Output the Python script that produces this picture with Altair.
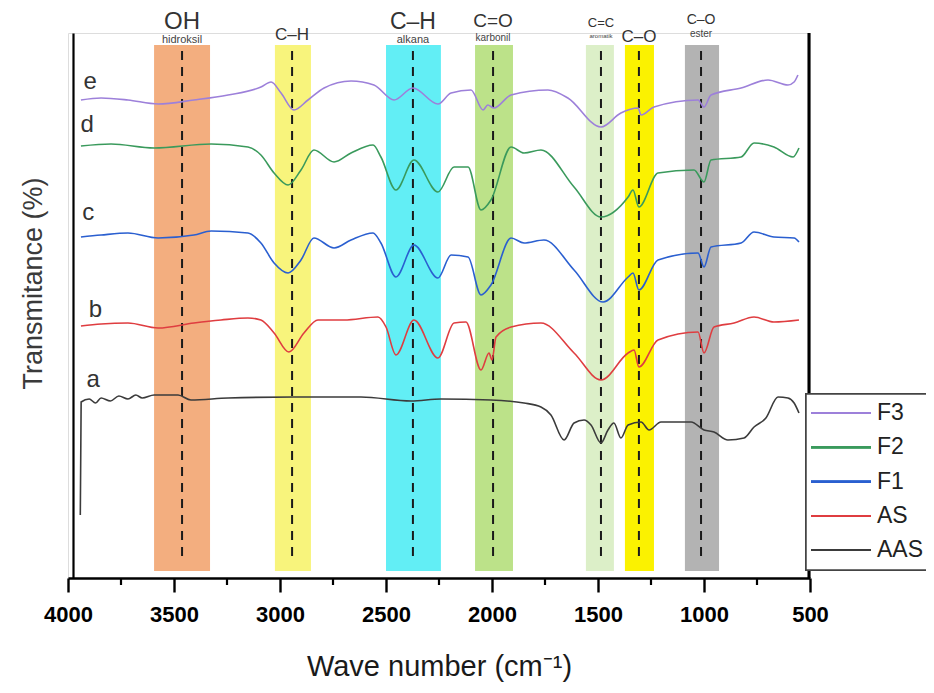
import altair as alt
import pandas as pd

# ---------------- data ----------------
series_names = ["F3", "F2", "F1", "AS", "AAS"]
series_letters = ["e", "d", "c", "b", "a"]
series_colors = ["#9d80da", "#3a9a5c", "#2a5fd0", "#df3d40", "#3b3b3b"]

# wavenumber (cm-1) and offset transmittance (arbitrary units)
wn_F3 = [3939, 3844, 3717, 3575, 3406, 3245, 3090, 3042, 2995, 2934, 2868, 2792, 2665, 2557,
         2462, 2373, 2255, 2193, 2099, 2042, 2020, 1991, 1910, 1736, 1642, 1486, 1392, 1311,
         1297, 1236, 1028, 1000, 967, 825, 698, 604, 575, 557]
T_F3 = [475, 477, 475, 471, 475, 480, 488, 493, 482, 465, 475, 487, 494, 490,
        475, 487, 471, 482, 485, 465, 470, 467, 480, 485, 477, 448, 462, 467,
        460, 468, 475, 468, 480, 487, 495, 490, 493, 500]

wn_F2 = [3939, 3797, 3594, 3325, 3151, 3090, 3028, 2962, 2901, 2840, 2745, 2665, 2561, 2524,
         2453, 2368, 2255, 2179, 2113, 2052, 2005, 1910, 1849, 1769, 1613, 1486, 1358, 1335,
         1307, 1217, 1047, 1000, 967, 825, 764, 670, 580, 552]
T_F2 = [429, 431, 427, 431, 428, 420, 402, 390, 405, 425, 413, 422, 430, 418,
        385, 415, 383, 408, 408, 365, 375, 428, 422, 425, 388, 358, 378, 385,
        368, 402, 405, 393, 415, 418, 432, 428, 418, 427]

wn_F1 = [3939, 3844, 3717, 3575, 3406, 3325, 3151, 3090, 3028, 2962, 2901, 2840, 2745, 2665,
         2561, 2524, 2453, 2368, 2255, 2193, 2113, 2052, 2005, 1910, 1849, 1755, 1613, 1476,
         1358, 1335, 1307, 1217, 1028, 1000, 967, 825, 764, 670, 575, 552]
T_F1 = [338, 340, 342, 337, 340, 344, 342, 332, 312, 302, 315, 337, 327, 335,
        342, 332, 298, 330, 297, 320, 318, 280, 290, 337, 332, 335, 305, 273,
        298, 302, 285, 315, 322, 308, 328, 332, 343, 338, 337, 333]

wn_AS = [3939, 3844, 3717, 3575, 3406, 3278, 3151, 3090, 3028, 2958, 2887, 2821, 2698, 2538,
         2500, 2453, 2368, 2255, 2179, 2123, 2052, 2014, 2000, 1981, 1910, 1769, 1613, 1486,
         1358, 1330, 1307, 1217, 1028, 1000, 953, 858, 764, 670, 552]
T_AS = [249, 251, 252, 247, 252, 255, 257, 255, 242, 223, 242, 255, 255, 258,
        248, 220, 255, 217, 252, 253, 205, 222, 215, 238, 248, 252, 222, 195,
        222, 225, 208, 235, 243, 222, 248, 252, 258, 253, 255]

wn_AAS = [3942, 3938, 3900, 3870, 3844, 3800, 3760, 3717, 3680, 3650, 3594, 3481, 3420, 3245,
          2934, 2618, 2382, 2241, 2005, 1849, 1769, 1722, 1660, 1613, 1566, 1533, 1486, 1453,
          1425, 1392, 1358, 1297, 1259, 1203, 1061, 1000, 953, 887, 811, 764, 708, 651,
          604, 575, 552]
T_AAS = [60, 173, 176, 172, 177, 174, 179, 176, 180, 177, 180, 180, 175, 177,
         178, 178, 174, 176, 175, 172, 168, 160, 135, 152, 155, 150, 132, 145,
         152, 137, 150, 153, 145, 153, 153, 145, 143, 135, 137, 148, 157, 178,
         177, 172, 162]

# letter labels next to each trace
letter_wn = [3895, 3909, 3904, 3871, 3881]
letter_T = [493, 450, 362, 265, 195]

# functional-group bands
band_start = [3594, 3024, 2500, 2080, 1557, 1373, 1090]
band_end = [3330, 2854, 2241, 1901, 1425, 1236, 929]
band_center = [3462, 2943, 2373, 1995, 1486, 1307, 1014]
band_colors = ["#f3ae7f", "#f8f47c", "#62eef5", "#bce289", "#dcefc8", "#fbf200", "#b3b3b3"]
band_titles = ["OH", "C\u2013H", "C\u2013H", "C=O", "C=C", "C\u2013O", "C\u2013O"]
band_subtitles = ["hidroksil", "", "alkana", "karbonil", "aromatik", "", "ester"]

x_ticks = [4000, 3500, 3000, 2500, 2000, 1500, 1000, 500]
minor_ticks = [3750, 3250, 2750, 2250, 1750, 1250, 750]

# ---------------- style ----------------
SANS = "Liberation Sans, Arial, sans-serif"
W, H = 742, 545
BAND_TOP, BAND_BOT = 530, 4
DASH_TOP, DASH_BOT = 524, 14

# title rows for band labels (pixel y in plot coords), font sizes
title_y = [-11, 2, -11, -12, -10, 4, -13]
title_size = [24, 17, 23, 19, 13, 17, 14]
sub_y = [7, 0, 7, 5, 3, 0, 1]
sub_size = [11, 0, 11, 10, 6, 0, 10]

# ---------------- frames ----------------
rows = []
for name, wn, T in [("F3", wn_F3, T_F3), ("F2", wn_F2, T_F2), ("F1", wn_F1, T_F1),
                    ("AS", wn_AS, T_AS), ("AAS", wn_AAS, T_AAS)]:
    for a, b in zip(wn, T):
        rows.append({"series": name, "wn": a, "T": b})
spec = pd.DataFrame(rows)

bands = pd.DataFrame({"wn": band_start, "wn2": band_end, "color": band_colors,
                      "T": [BAND_TOP] * len(band_start), "T2": [BAND_BOT] * len(band_start)})
centers = pd.DataFrame({"wn": band_center, "T": [DASH_TOP] * len(band_center),
                        "T2": [DASH_BOT] * len(band_center)})
letters = pd.DataFrame({"wn": letter_wn, "T": letter_T, "txt": series_letters})
minors = pd.DataFrame({"wn": minor_ticks})

xs = alt.Scale(domain=[500, 4000], reverse=True, nice=False, zero=False)
ys = alt.Scale(domain=[-3, 542], nice=False, zero=False)

xaxis = alt.Axis(values=x_ticks, format="d", title="Wave number (cm\u207b\u00b9)", grid=False,
                 domainColor="black", domainWidth=2.6, tickColor="black", tickWidth=2.4,
                 tickSize=14, labelFont=SANS, labelFontSize=22, labelFontWeight="bold",
                 labelColor="black", labelPadding=12, labelFlush=False, labelOverlap=False,
                 titleFont=SANS, titleFontSize=29, titleFontWeight="normal",
                 titleColor="#1a1a1a", titleY=88, titleBaseline="middle")
yaxis = alt.Axis(title="Transmitance (%)", labels=False, ticks=False, grid=False,
                 domainColor="black", domainWidth=2.2, offset=-5, titleFont=SANS,
                 titleFontSize=27, titleFontWeight="normal", titleColor="#3a3a3a",
                 titleX=-40, titleY=250, titleAngle=270, titleAlign="center",
                 titleBaseline="middle")

X = lambda f="wn": alt.X(f"{f}:Q", scale=xs, axis=xaxis)
Y = lambda f="T": alt.Y(f"{f}:Q", scale=ys, axis=yaxis)

band_layer = alt.Chart(bands).mark_rect(opacity=1).encode(
    x=X(), x2="wn2:Q", y=Y(), y2="T2:Q",
    color=alt.Color("color:N", scale=None))

dash_layer = alt.Chart(centers).mark_rule(color="#1a1a1a", strokeWidth=2, strokeDash=[9, 7]).encode(
    x=X(), y=Y(), y2="T2:Q")

line_layer = alt.Chart(spec).mark_line(strokeWidth=1.6, interpolate="monotone").encode(
    x=X(), y=Y(),
    color=alt.Color("series:N", scale=alt.Scale(domain=series_names, range=series_colors), legend=None),
    detail="series:N")

letter_layer = alt.Chart(letters).mark_text(font=SANS, fontSize=24, color="#333",
                                             align="center", baseline="middle").encode(
    x=X(), y=Y(), text="txt:N")

minor_layer = alt.Chart(minors).mark_rule(color="black", strokeWidth=2.2).encode(
    x=X(), y=alt.value(H), y2=alt.value(H + 7))

spine_layer = alt.Chart(minors).mark_rule(color="black", strokeWidth=2.2).encode(
    x=alt.value(W - 1), y=alt.value(0), y2=alt.value(H))

label_layers = []
for i in range(len(band_center)):
    df = pd.DataFrame({"wn": [band_center[i]], "txt": [band_titles[i]]})
    label_layers.append(alt.Chart(df).mark_text(font=SANS, fontSize=title_size[i], color="#333",
                                                align="center", baseline="middle").encode(
        x=X(), y=alt.value(title_y[i]), text="txt:N"))
    if band_subtitles[i]:
        df2 = pd.DataFrame({"wn": [band_center[i]], "txt": [band_subtitles[i]]})
        label_layers.append(alt.Chart(df2).mark_text(font=SANS, fontSize=sub_size[i], color="#444",
                                                     align="center", baseline="middle").encode(
            x=X(), y=alt.value(sub_y[i]), text="txt:N"))

# legend box drawn by hand
legend_layers = [alt.Chart(minors).mark_rect(fill="white", stroke="#444", strokeWidth=1.5).encode(
    x=alt.value(W - 4), x2=alt.value(W + 170), y=alt.value(361), y2=alt.value(537))]
for i, (nm, col) in enumerate(zip(series_names, series_colors)):
    yy = 380 + 34.3 * i
    legend_layers.append(alt.Chart(minors).mark_rule(color=col, strokeWidth=1.8).encode(
        x=alt.value(W + 1), x2=alt.value(W + 61), y=alt.value(yy)))
    df = pd.DataFrame({"txt": [nm]})
    legend_layers.append(alt.Chart(df).mark_text(font=SANS, fontSize=23, color="#222",
                                                 align="left", baseline="middle").encode(
        x=alt.value(W + 67), y=alt.value(yy), text="txt:N"))

chart = alt.layer(band_layer, dash_layer, line_layer, letter_layer, minor_layer, spine_layer,
                  *label_layers, *legend_layers).properties(
    width=W, height=H,
    autosize=alt.AutoSizeParams(type="none"),
    padding={"left": 60, "top": 25, "right": 116, "bottom": 105},
).configure_view(stroke=None).configure(background="white")

chart.save("out.html", embed_options={"renderer": "svg", "actions": False})
